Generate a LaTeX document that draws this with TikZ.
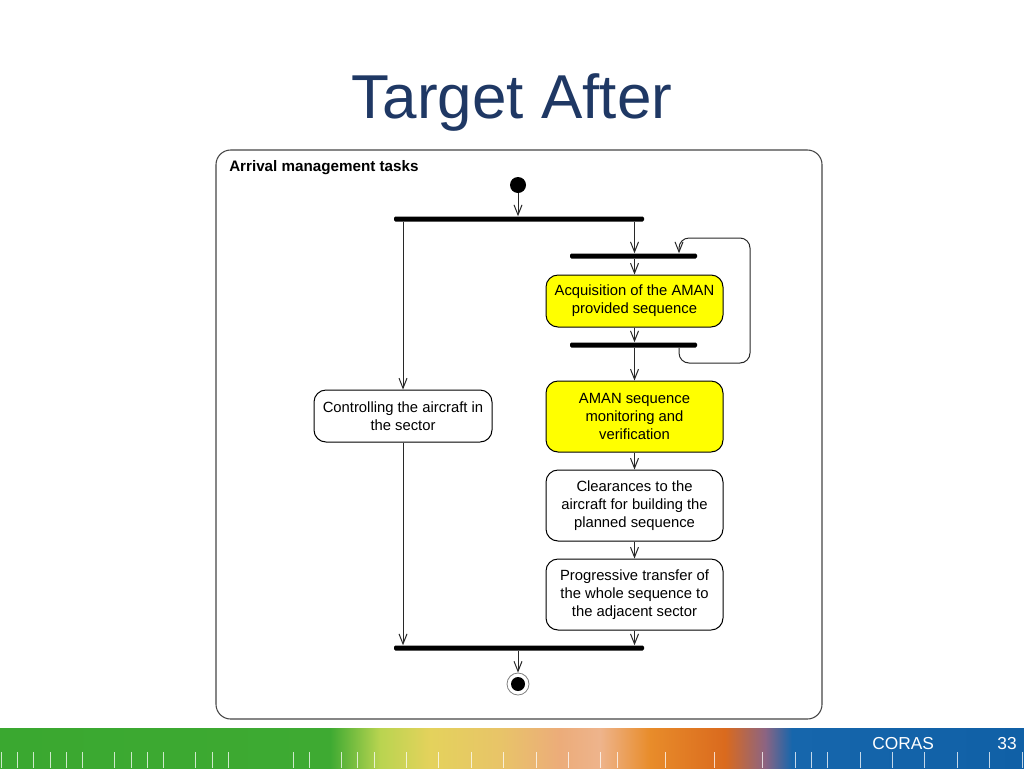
\documentclass[tikz,border=0pt]{standalone}
\usepackage{fontspec}
\setmainfont{Liberation Sans}
\usetikzlibrary{arrows.meta}
\definecolor{navy}{RGB}{31,56,100}
\definecolor{linec}{RGB}{40,40,40}
\definecolor{framec}{RGB}{70,70,70}
\definecolor{actyellow}{RGB}{255,255,0}
\definecolor{fg1}{RGB}{58,168,48}
\definecolor{fg2}{RGB}{62,170,50}
\definecolor{fyg}{RGB}{185,212,80}
\definecolor{fy}{RGB}{228,210,92}
\definecolor{fy2}{RGB}{232,196,104}
\definecolor{fpe}{RGB}{236,172,122}
\definecolor{fpl}{RGB}{238,180,140}
\definecolor{for}{RGB}{232,140,42}
\definecolor{fdo}{RGB}{218,106,30}
\definecolor{fpu}{RGB}{140,100,130}
\definecolor{fbl}{RGB}{22,102,172}
\definecolor{fbl2}{RGB}{16,96,166}
\begin{document}
\begin{tikzpicture}[x=0.75pt,y=-0.75pt,
  arr/.style={draw=linec, line width=0.75pt, -{Straight Barb[length=7.5pt,width=6pt]}},
  act/.style={draw=black, line width=0.75pt, rounded corners=9pt, minimum width=132.75pt, align=center, inner sep=2pt, font=\fontsize{11.1}{13.5}\selectfont},
  bar/.style={fill=black, inner sep=0pt, minimum height=3.75pt, rounded corners=1pt},
  tick/.style={draw=white, draw opacity=0.75, line width=0.75pt}
  ]
\useasboundingbox (0,0) rectangle (1024,768);
\fill[white] (0,0) rectangle (1024,768);

% title
\node[anchor=base, text=navy, font=\fontsize{46.5}{50}\selectfont] (title) at (512,118) {Target After};

% footer band
\shade[left color=fg1, right color=fg2] (0,728) rectangle (330,768);
\shade[left color=fg2, right color=fyg] (330,728) rectangle (380,768);
\shade[left color=fyg, right color=fy] (380,728) rectangle (430,768);
\shade[left color=fy, right color=fy2] (430,728) rectangle (500,768);
\shade[left color=fy2, right color=fpe] (500,728) rectangle (560,768);
\shade[left color=fpe, right color=fpl] (560,728) rectangle (600,768);
\shade[left color=fpl, right color=for] (600,728) rectangle (650,768);
\shade[left color=for, right color=fdo] (650,728) rectangle (725,768);
\shade[left color=fdo, right color=fpu] (725,728) rectangle (765,768);
\shade[left color=fpu, right color=fbl] (765,728) rectangle (792,768);
\shade[left color=fbl, right color=fbl2] (792,728) rectangle (1024,768);
\foreach \i in {0,...,5,7,8,9,10,12,13,14,18,19,21,22,23,25,...,35,37,38,41,...,47,49,50,51,53,...,63}
  \draw[tick] ({1.5+16.2*\i},752) -- ({1.5+16.2*\i},768);
\node[anchor=base west, text=white, font=\fontsize{13}{15}\selectfont, inner sep=0pt] (coras) at (872,749) {CORAS};
\node[anchor=base east, text=white, font=\fontsize{13}{15}\selectfont, inner sep=0pt] (pnum) at (1017,749) {33};

% frame
\draw[draw=framec, line width=0.8pt, rounded corners=11pt] (216,150) rectangle (822,719);
\node[anchor=base west, inner sep=0pt, font=\fontsize{11.4}{13}\selectfont\bfseries] (frametitle) at (229,171) {Arrival management tasks};

% nodes
\node[circle, fill=black, inner sep=0pt, minimum size=12pt] (init) at (518,185) {};
\node[bar, minimum width=187.5pt] (bar1) at (519,219) {};
\node[bar, minimum width=95.25pt] (bar2) at (633.5,256) {};
\node[act, fill=actyellow, minimum height=39pt] (acq) at (634.5,301) {Acquisition of the AMAN\\provided sequence};
\node[bar, minimum width=95.25pt] (bar3) at (633.5,345) {};
\node[act, fill=actyellow, minimum height=53.25pt] (aman) at (634.5,416.5) {AMAN sequence\\monitoring and\\verification};
\node[act, fill=white, minimum height=53.25pt] (clr) at (634.5,505.5) {Clearances to the\\aircraft for building the\\planned sequence};
\node[act, fill=white, minimum height=53.25pt] (prog) at (634.5,594.5) {Progressive transfer of\\the whole sequence to\\the adjacent sector};
\node[act, fill=white, minimum height=39pt, minimum width=133.5pt] (ctrl) at (403,416) {Controlling the aircraft in\\the sector};
\node[bar, minimum width=187.5pt] (bar4) at (519,648) {};
\node[circle, draw=gray, line width=0.6pt, inner sep=0pt, minimum size=16.5pt] (final) at (518,684) {};
\node[circle, fill=black, inner sep=0pt, minimum size=10.5pt] (finalin) at (final.center) {};

% loop coordinates
\coordinate (lpx) at (679,300);
\coordinate (lb) at (700,363);
\coordinate (lr) at (750,300);
\coordinate (lt) at (700,238);

% connectors
\draw[arr] (init) -- (init |- bar1.north);
\draw[arr] (bar1.south -| ctrl) -- (ctrl.north);
\draw[arr] (bar1.south -| acq) -- (bar2.north -| acq);
\draw[arr] (bar2.south -| acq) -- (acq.north);
\draw[arr] (acq.south) -- (bar3.north -| acq);
\draw[arr] (bar3.south -| acq) -- (aman.north);
\draw[arr] (aman.south) -- (clr.north);
\draw[arr] (clr.south) -- (prog.north);
\draw[arr] (prog.south) -- (bar4.north -| prog);
\draw[arr] (ctrl.south) -- (bar4.north -| ctrl);
\draw[arr] (bar4.south -| final) -- (final.north);
\draw[arr, rounded corners=7.5pt] (bar3.south -| lpx) -- (lpx |- lb) -- (lb -| lr) -- (lr |- lt) -- (lt -| lpx) -- (bar2.north -| lpx);
\end{tikzpicture}
\end{document}
